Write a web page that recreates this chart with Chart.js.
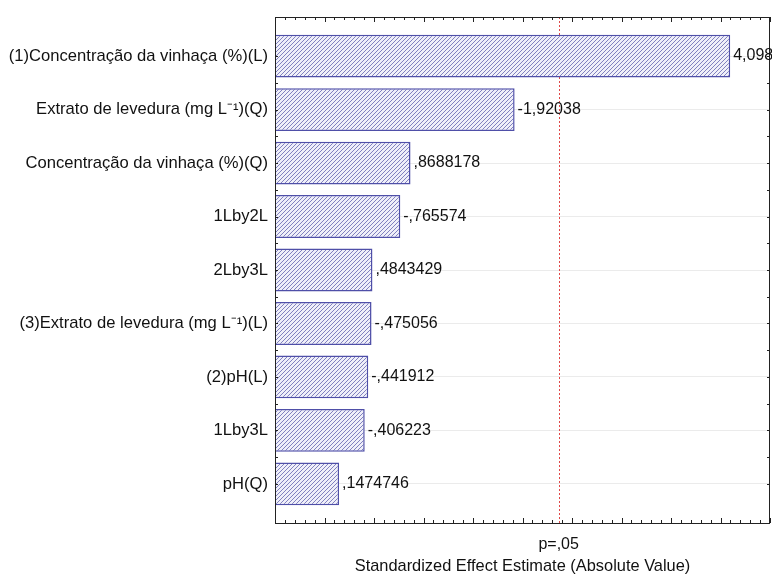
<!DOCTYPE html>
<html>
<head>
<meta charset="utf-8">
<script src="https://cdn.jsdelivr.net/npm/chart.js@4/dist/chart.umd.min.js"></script>
<style>
  html, body { margin: 0; padding: 0; background: #fff; }
  #wrap { width: 772px; height: 576px; }
</style>
</head>
<body>
<div id="wrap"><canvas id="pareto" width="772" height="576"></canvas></div>
<script>
// effects, sorted by absolute size (signed as estimated)
const effectNames = [
  '(1)Concentração da vinhaça (%)(L)',
  'Extrato de levedura (mg L\u207B\u00B9)(Q)',
  'Concentração da vinhaça (%)(Q)',
  '1Lby2L',
  '2Lby3L',
  '(3)Extrato de levedura (mg L\u207B\u00B9)(L)',
  '(2)pH(L)',
  '1Lby3L',
  'pH(Q)'
];
const effectValues = [4.098, -1.92038, 0.8688178, -0.765574, 0.4843429, -0.475056, -0.441912, -0.406223, 0.1474746];
const pCritical = 2.365;
const pLabel = 'p=,05';

const X_MIN = -0.5, X_MAX = 4.5;
const FONT = '"Liberation Sans", Arial, sans-serif';

// statistica style number: comma decimal, no leading zero
function fmt(v) {
  let s = String(v).replace('.', ',');
  return s.replace(/^(-?)0,/, '$1,');
}

function hatch() {
  const c = document.createElement('canvas');
  c.width = 8; c.height = 8;
  const g = c.getContext('2d');
  g.fillStyle = '#efeff9';
  g.fillRect(0, 0, 8, 8);
  g.strokeStyle = '#7474b8';
  g.lineWidth = 0.9;
  for (let o = -8; o <= 8; o += 4) {
    g.beginPath();
    g.moveTo(o, 8);
    g.lineTo(o + 8, 0);
    g.stroke();
  }
  return g.createPattern(c, 'repeat');
}

const frame = {
  id: 'frame',
  beforeDatasetsDraw(chart) {
    const { ctx, chartArea: a, scales: { x } } = chart;
    // p-value reference line
    ctx.save();
    const px = Math.round(x.getPixelForValue(pCritical)) + 0.5;
    ctx.strokeStyle = '#e04848';
    ctx.lineWidth = 1;
    ctx.setLineDash([2, 2]);
    ctx.beginPath();
    ctx.moveTo(px, a.top);
    ctx.lineTo(px, a.bottom);
    ctx.stroke();
    ctx.restore();
  },
  afterDatasetsDraw(chart) {
    const { ctx, chartArea: a, scales: { x, y } } = chart;
    ctx.save();
    ctx.strokeStyle = '#222';
    ctx.lineWidth = 1;
    ctx.strokeRect(Math.round(a.left) + 0.5, Math.round(a.top) + 0.5,
      Math.round(a.right - a.left) - 1, Math.round(a.bottom - a.top));
    // inward ticks on top/bottom
    ctx.beginPath();
    for (let k = 0; k <= Math.round((X_MAX - X_MIN) * 10); k++) {
      const v = X_MIN + k / 10;
      const len = (k % 5 === 0) ? 5 : 3;
      const p = Math.round(x.getPixelForValue(v)) + 0.5;
      ctx.moveTo(p, a.bottom); ctx.lineTo(p, a.bottom - len);
      ctx.moveTo(p, a.top); ctx.lineTo(p, a.top + len);
    }
    // inward ticks on left/right
    for (let v = 0; v <= effectNames.length - 1; v += 0.5) {
      const p = Math.round(y.getPixelForValue(v)) + 0.5;
      ctx.moveTo(a.left, p); ctx.lineTo(a.left + 3, p);
      ctx.moveTo(a.right, p); ctx.lineTo(a.right - 3, p);
    }
    ctx.stroke();

    // value labels at bar ends
    ctx.fillStyle = '#111';
    ctx.font = '16px ' + FONT;
    ctx.textBaseline = 'middle';
    chart.getDatasetMeta(0).data.forEach((bar, i) => {
      ctx.fillText(fmt(effectValues[i]), bar.x + 3, bar.y);
    });
    ctx.restore();
  }
};

new Chart(document.getElementById('pareto'), {
  type: 'bar',
  data: {
    datasets: [{
      data: effectValues.map((v, i) => ({ x: Math.abs(v), y: i })),
      base: X_MIN,
      backgroundColor: hatch(),
      borderColor: '#4f4fa8',
      borderWidth: 1.5,
      categoryPercentage: 1,
      barPercentage: 0.8
    }]
  },
  plugins: [frame],
  options: {
    indexAxis: 'y',
    responsive: false,
    animation: false,
    layout: { padding: { top: 17, right: 2, left: 0, bottom: 0 } },
    plugins: { legend: { display: false }, tooltip: { enabled: false } },
    scales: {
      x: {
        type: 'linear',
        min: X_MIN,
        max: X_MAX,
        grid: { display: false },
        border: { display: false },
        afterBuildTicks: s => { s.ticks = [{ value: pCritical }]; },
        ticks: {
          callback: () => pLabel,
          color: '#111',
          font: { family: FONT, size: 16 },
          padding: 4,
          maxRotation: 0
        },
        title: {
          display: true,
          text: 'Standardized Effect Estimate (Absolute Value)',
          color: '#111',
          font: { family: FONT, size: 16.4 },
          padding: { top: -6, bottom: 0 }
        },
        afterFit: s => { s.height = 53; }
      },
      y: {
        type: 'linear',
        reverse: true,
        offset: false,
        min: -0.73,
        max: 8.73,
        afterBuildTicks: s => { s.ticks = effectNames.map((_, i) => ({ value: i })); },
        grid: { color: '#ebebeb', drawTicks: false, offset: false },
        border: { display: false },
        ticks: {
          callback: v => effectNames[v],
          color: '#111',
          font: { family: FONT, size: 16.6 },
          padding: 7
        },
        afterFit: s => { s.width = 275; }
      }
    }
  }
});
</script>
</body>
</html>
